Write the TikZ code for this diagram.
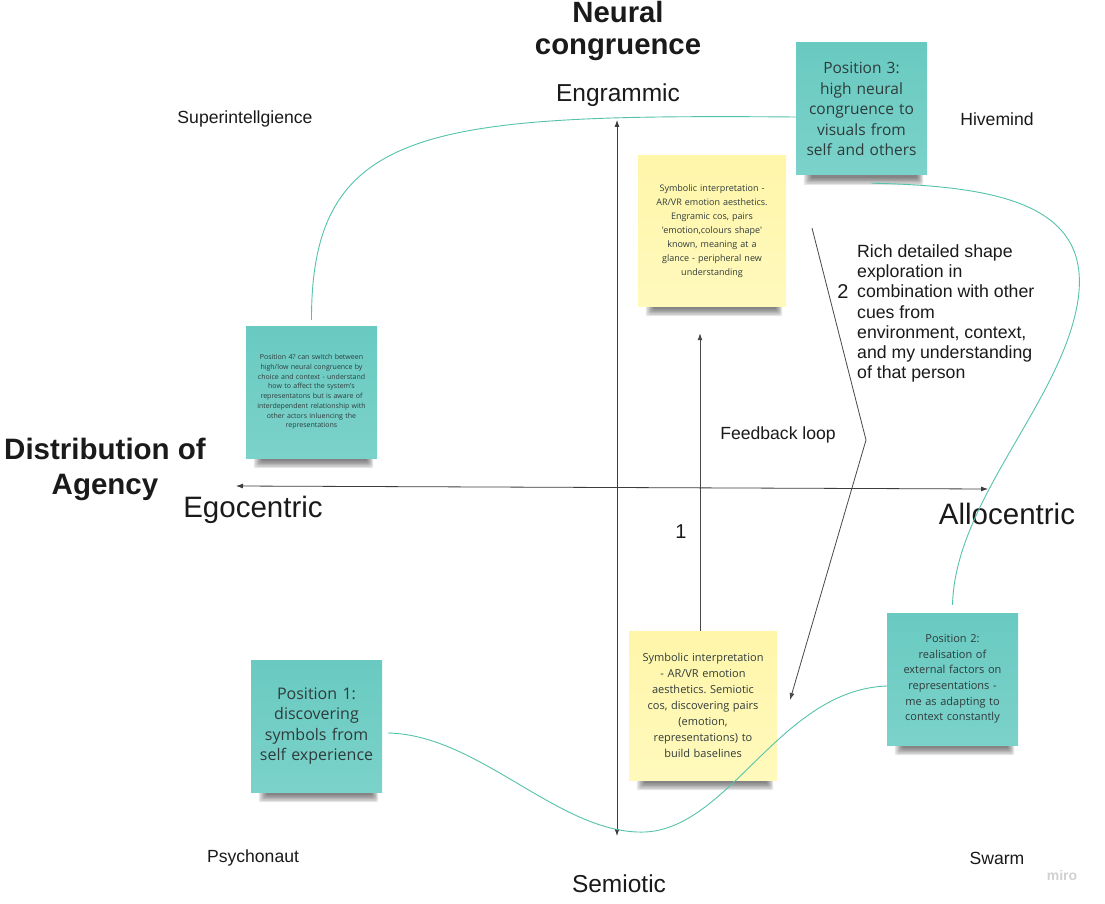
\documentclass[tikz,border=0pt]{standalone}
\usepackage{fontspec}
\setmainfont{Liberation Sans}
\newfontfamily\osans{Open Sans}
\usetikzlibrary{arrows.meta}
\pgfdeclarelayer{background}
\pgfsetlayers{background,main}
\definecolor{teal1}{HTML}{69CAC1}
\definecolor{teal2}{HTML}{7BD2CA}
\definecolor{yel1}{HTML}{FFF6AA}
\definecolor{yel2}{HTML}{FFF9BC}
\definecolor{curve}{HTML}{55C3AB}
\definecolor{ink}{HTML}{1A1A1A}
\definecolor{stext}{HTML}{2F3B3B}
\frenchspacing
\newcommand\stickyshadow[1]{%
  \begin{pgfonlayer}{background}
    \foreach \k in {0,...,5}{%
      \fill[black,opacity=0.1,rounded corners=2pt]
        ([xshift={8pt+\k*1.5pt},yshift=3pt]#1.south west) rectangle
        ([xshift={-4pt-\k*1.2pt},yshift={-10pt+\k*1.4pt}]#1.south east);}
  \end{pgfonlayer}}
\begin{document}
\begin{tikzpicture}[x=1pt,y=-1pt,
  sticky/.style={inner sep=0pt, align=center, text=stext, minimum width=131pt, minimum height=132pt, text width=126pt},
  tealnote/.style={sticky, top color=teal1, bottom color=teal2},
  yellownote/.style={sticky, top color=yel1, bottom color=yel2, minimum width=148pt, minimum height=150pt, text width=142pt},
  lab/.style={text=ink, inner sep=0pt, align=center},
  axis/.style={draw=ink!85, line width=0.8pt, {Latex[length=7pt,width=5pt]}-{Latex[length=7pt,width=5pt]}},
  flow/.style={draw=ink!80, line width=0.8pt, -{Latex[length=7pt,width=5pt]}},
  link/.style={draw=curve, line width=0.9pt}]
\begin{pgfonlayer}{background}
  \fill[white] (0,0) rectangle (1105,904);
\end{pgfonlayer}
\useasboundingbox (0,0) rectangle (1105,904);

% axes
\coordinate (vtop) at (617,120);
\coordinate (vbot) at (617,836);
\coordinate (hl) at (236,486);
\coordinate (hr) at (988,489);
\draw[axis] (vtop) -- (vbot);
\draw[axis] (hl) -- (hr);

% sticky notes
\node[tealnote, font=\osans\fontsize{7}{9.7}\selectfont] (p47) at (311.5,392)
  {Position 4? can switch between\\high/low neural congruence by\\choice and context - understand\\how to affect the system's\\representatons but is aware of\\interdependent relationship with\\other actors inluencing the\\representations};
\node[yellownote, font=\osans\fontsize{9}{14}\selectfont] (yt) at (712,231)
  {Symbolic interpretation -\\AR/VR emotion aesthetics.\\Engramic cos, pairs\\'emotion,colours shape'\\known, meaning at a\\glance - peripheral new\\understanding};
\node[yellownote, minimum height=149pt, font=\osans\fontsize{11}{16}\selectfont] (yb) at (703,705.5)
  {Symbolic interpretation\\- AR/VR emotion\\aesthetics. Semiotic\\cos, discovering pairs\\(emotion,\\representations) to\\build baselines};
\node[tealnote, font=\osans\fontsize{11}{15.6}\selectfont] (p2) at (952.5,679)
  {Position 2:\\realisation of\\external factors on\\representations -\\me as adapting to\\context constantly};
\node[tealnote, font=\osans\fontsize{15.5}{20.6}\selectfont] (p3) at (861.5,109)
  {Position 3:\\high neural\\congruence to\\visuals from\\self and others};
\node[tealnote, font=\osans\fontsize{16}{20.3}\selectfont] (p1) at (316.5,726)
  {Position 1:\\discovering\\symbols from\\self experience};
\stickyshadow{p47}
\stickyshadow{yt}
\stickyshadow{yb}
\stickyshadow{p2}
\stickyshadow{p3}
\stickyshadow{p1}

% labels
\node[lab, font=\bfseries\fontsize{29.3}{32}\selectfont] (nc) at (618,31) {Neural\\congruence};
\node[lab, font=\fontsize{24.5}{28}\selectfont] (eng) at (618,95.5) {Engrammic};
\node[lab, font=\fontsize{24.5}{28}\selectfont] (sem) at (619,883.5) {Semiotic};
\node[lab, font=\fontsize{29.5}{34}\selectfont] (ego) at (253,510) {Egocentric};
\node[lab, font=\fontsize{29.5}{34}\selectfont] (allo) at (1007,513.5) {Allocentric};
\node[lab, font=\bfseries\fontsize{29.5}{35}\selectfont] (doa) at (105,469) {Distribution of\\Agency};
\node[lab, font=\fontsize{17.6}{21}\selectfont] (super) at (245,119) {Superintellgience};
\node[lab, font=\fontsize{17.6}{21}\selectfont] (hive) at (997,119) {Hivemind};
\node[lab, font=\fontsize{17.6}{21}\selectfont] (psy) at (253,858) {Psychonaut};
\node[lab, font=\fontsize{17.6}{21}\selectfont] (swarm) at (997,858) {Swarm};
\node[lab, font=\fontsize{17.6}{21}\selectfont] (fb) at (778,435) {Feedback loop};
\node[lab, font=\fontsize{20}{24}\selectfont] (one) at (681,532) {1};
\node[lab, font=\fontsize{20}{24}\selectfont] (two) at (843,292) {2};
\node[lab, anchor=west, align=left, font=\fontsize{17.7}{20.1}\selectfont] (rich) at (857,313.5)
  {Rich detailed shape\\exploration in\\combination with other\\cues from\\environment, context,\\and my understanding\\of that person};
\node[lab, text=black!18, font=\bfseries\fontsize{14}{16}\selectfont] (miro) at (1062,875) {miro};

% connectors
\draw[link] ([yshift=-8pt]p3.west) .. controls (430,114) and (311,125) .. ([yshift=6pt]p47.north);
\draw[link] ([xshift=10pt,yshift=-8pt]p3.south) .. controls (1000,186) and (1092,205) .. (1078,300)
  .. controls (1063,400) and (955,500) .. ([yshift=8pt]p2.north);
\draw[link] ([xshift=6pt,yshift=-7pt]p1.east) .. controls (480,735) and (560,835) .. (645,832)
  .. controls (730,828) and (780,690) .. ([yshift=-7pt]p2.west);
\draw[flow] ([xshift=-3pt]yb.north) -- ([xshift=-12pt,yshift=-27pt]yt.south);
\coordinate (a2s) at (812,228);
\coordinate (a2k) at (866,440);
\coordinate (a2e) at (790,700);
\draw[flow] (a2s) -- (a2k) -- (a2e);
\end{tikzpicture}
\end{document}
